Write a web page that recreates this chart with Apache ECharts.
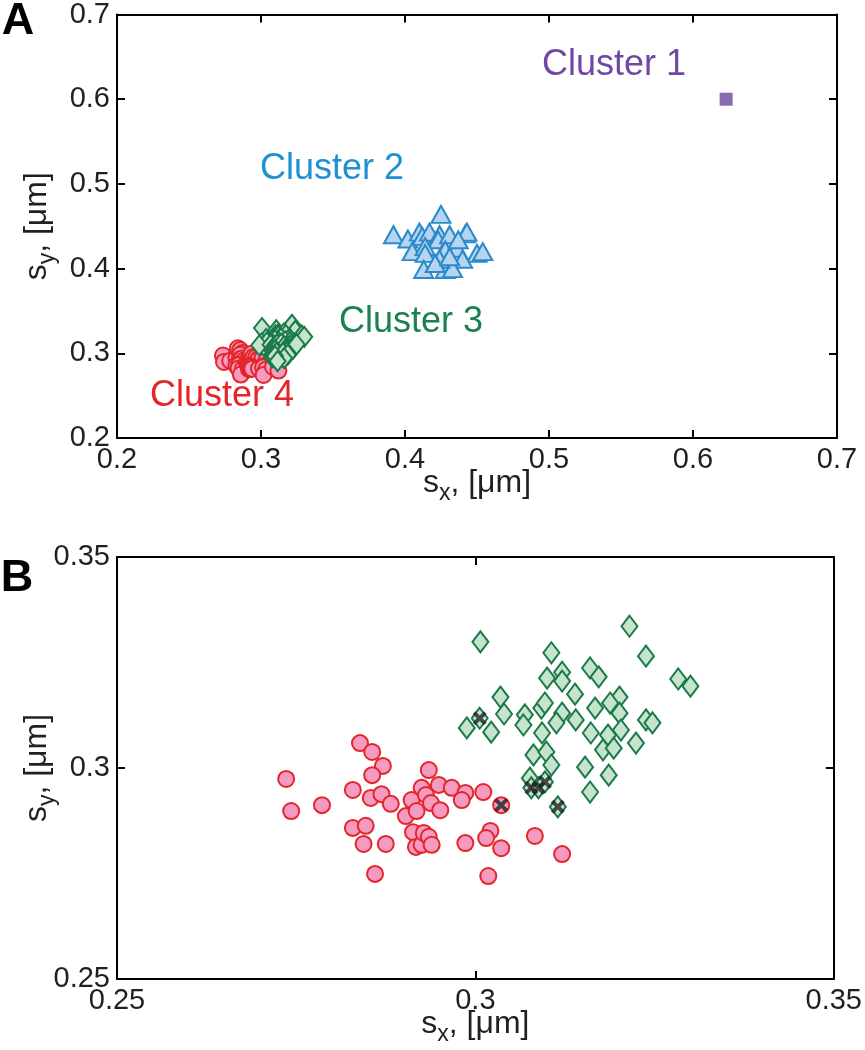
<!DOCTYPE html>
<html>
<head>
<meta charset="utf-8">
<script src="https://cdn.jsdelivr.net/npm/echarts@6/dist/echarts.min.js"></script>
<style>
html,body{margin:0;padding:0;background:#fff}
#main{width:865px;height:1050px}
</style>
</head>
<body>
<div id="main"></div>
<script>
// cluster data, [sx, sy] in um
const cluster1 = [[0.623, 0.600]];

const cluster2 = [
  [0.425,0.464],[0.392,0.440],[0.402,0.435],[0.410,0.443],[0.412,0.438],
  [0.417,0.443],[0.424,0.440],[0.423,0.434],[0.431,0.440],[0.442,0.441],
  [0.443,0.443],[0.405,0.420],[0.414,0.426],[0.414,0.418],[0.426,0.418],
  [0.428,0.422],[0.436,0.424],[0.437,0.434],[0.450,0.418],[0.454,0.420],
  [0.440,0.411],[0.413,0.399],[0.428,0.399],[0.433,0.400],[0.424,0.411],
  [0.421,0.406],[0.431,0.414]
];

const cluster3 = [
  [0.3007,0.3299],[0.3215,0.3336],[0.3106,0.3273],[0.3238,0.3265],[0.3100,0.3213],
  [0.3121,0.3227],[0.3121,0.3206],[0.3160,0.3237],[0.3172,0.3216],[0.3283,0.3211],
  [0.3300,0.3194],[0.3035,0.3168],[0.3139,0.3175],[0.3201,0.3168],[0.3188,0.3154],
  [0.3092,0.3142],[0.3097,0.3154],[0.3167,0.3142],[0.3069,0.3126],[0.3121,0.3130],
  [0.3006,0.3118],[0.3022,0.3085],[0.3040,0.3128],[0.2988,0.3095],[0.3067,0.3102],
  [0.3093,0.3083],[0.3113,0.3107],[0.3140,0.3114],[0.3201,0.3130],[0.3161,0.3083],
  [0.3185,0.3078],[0.3203,0.3090],[0.3178,0.3043],[0.3193,0.3047],[0.3224,0.3059],
  [0.3238,0.3114],[0.3247,0.3107],[0.3081,0.3031],[0.3099,0.3038],[0.3106,0.3007],
  [0.3153,0.3002],[0.3186,0.2983],[0.3160,0.2943],[0.3076,0.2976],[0.3078,0.2953],
  [0.3088,0.2953],[0.3097,0.2967],[0.3115,0.2908]
];

const cluster4 = [
  [0.2736,0.2974],[0.2743,0.2898],[0.2786,0.2912],[0.2829,0.2948],[0.2839,0.3059],
  [0.2856,0.3038],[0.2871,0.3005],[0.2856,0.2983],[0.2854,0.2929],[0.2869,0.2938],
  [0.2882,0.2915],[0.2829,0.2858],[0.2847,0.2863],[0.2844,0.2820],[0.2875,0.2820],
  [0.2860,0.2749],[0.2903,0.2886],[0.2911,0.2924],[0.2918,0.2898],[0.2925,0.2953],
  [0.2931,0.2936],[0.2938,0.2917],[0.2951,0.2900],[0.2935,0.2995],[0.2949,0.2960],
  [0.2967,0.2953],[0.2986,0.2941],[0.2981,0.2924],[0.3011,0.2943],[0.3036,0.2912],
  [0.2913,0.2848],[0.2917,0.2813],[0.2925,0.2818],[0.2928,0.2846],[0.2935,0.2837],
  [0.2939,0.2818],[0.2986,0.2822],[0.3021,0.2851],[0.3015,0.2834],[0.3036,0.2810],
  [0.3018,0.2744],[0.3083,0.2839],[0.3121,0.2796]
];

// points marked with a cross in panel B
const crossed = [
  [0.3006,0.3118],[0.3036,0.2912],[0.3078,0.2953],[0.3088,0.2953],[0.3097,0.2967],[0.3115,0.2908]
];

const ticksA = {min:0.2, max:0.7, step:0.1};
const ticksB = {min:0.25, max:0.35, step:0.05};

const FONT = '"Liberation Sans", Arial, Helvetica, sans-serif';
const INK = '#231f20';

const red = {fill:'#f59ac0', line:'#e3262a'};
const green = {fill:'#c6e4cc', line:'#1b7a4c'};
const blue = {fill:'#b5d4ef', line:'#2b8acb'};
const purple = '#6a45a0';

const fmt = v => String(+v.toFixed(2));

function nameRich(sub) {
  return {
    text: '{a|s}{b|' + sub + '}{a|, [μm]}',
    style: {
      rich: {
        a: {fontSize: 32, fontFamily: FONT, color: INK},
        b: {fontSize: 23, fontFamily: FONT, color: INK, padding: [20, 0, 0, 0]}
      }
    }
  };
}

function mainAxis(grid, t, pos, sub, gap) {
  const n = nameRich(sub);
  return {
    gridIndex: grid, type: 'value', position: pos,
    min: t.min, max: t.max, interval: t.step,
    axisLine: {lineStyle: {color: '#000', width: 2}},
    axisTick: {inside: true, length: 8, lineStyle: {color: '#000', width: 2}},
    axisLabel: {fontSize: 29, fontFamily: FONT, color: INK, margin: 7, formatter: fmt,
      showMinLabel: true, showMaxLabel: true},
    splitLine: {show: false},
    name: n.text, nameLocation: 'middle', nameGap: gap,
    nameMoveOverlap: false,
    nameRotate: (pos === 'left') ? 90 : 0,
    nameTextStyle: n.style
  };
}

function boxAxis(grid, t, pos) {
  return {
    gridIndex: grid, type: 'value', position: pos,
    min: t.min, max: t.max, interval: t.step,
    axisLine: {lineStyle: {color: '#000', width: 2}},
    axisTick: {inside: true, length: 8, lineStyle: {color: '#000', width: 2}},
    axisLabel: {show: false},
    splitLine: {show: false}
  };
}

function scatter(idx, data, symbol, size, c, z) {
  return {
    type: 'scatter', xAxisIndex: idx, yAxisIndex: idx,
    data: data, symbol: symbol, symbolSize: size, z: z,
    itemStyle: {color: c.fill, borderColor: c.line, borderWidth: 2, opacity: 1},
    emphasis: {disabled: true}
  };
}

function label(text, x, y, color, size, bold) {
  return {
    type: 'text', x: x, y: y, z: 100,
    style: {text: text, fill: color, fontSize: size, fontFamily: FONT,
      fontWeight: bold ? 'bold' : 'normal', align: 'center', verticalAlign: 'middle'}
  };
}

const chart = echarts.init(document.getElementById('main'), null, {renderer: 'canvas'});

chart.setOption({
  backgroundColor: '#fff',
  animation: false,
  grid: [
    {left: 117, top: 10, width: 720, height: 428},
    {left: 117, top: 557, width: 720, height: 422}
  ],
  xAxis: [
    mainAxis(0, ticksA, 'bottom', 'x', 24),
    boxAxis(0, ticksA, 'top'),
    mainAxis(1, ticksB, 'bottom', 'x', 24),
    boxAxis(1, ticksB, 'top')
  ],
  yAxis: [
    mainAxis(0, ticksA, 'left', 'y', 58),
    boxAxis(0, ticksA, 'right'),
    mainAxis(1, ticksB, 'left', 'y', 58),
    boxAxis(1, ticksB, 'right')
  ],
  series: [
    // panel A
    {
      type: 'scatter', xAxisIndex: 0, yAxisIndex: 0, data: cluster1,
      symbol: 'rect', symbolSize: 13, itemStyle: {color: purple}
    },
    scatter(0, cluster2, 'triangle', [19, 17], blue, 2),
    scatter(0, cluster4, 'circle', 16, red, 2),
    scatter(0, cluster3, 'diamond', [16, 20], green, 3),
    // panel B
    scatter(2, cluster4, 'circle', 16, red, 2),
    scatter(2, cluster3, 'diamond', [16, 21], green, 3),
    {
      type: 'scatter', xAxisIndex: 2, yAxisIndex: 2, data: crossed, z: 4,
      symbol: 'path://M0,2L2,0L5,3L8,0L10,2L7,5L10,8L8,10L5,7L2,10L0,8L3,5Z',
      symbolSize: 14,
      itemStyle: {color: '#222'}
    }
  ],
  graphic: [
    label('A', 18, 22, '#000', 45, true),
    label('B', 17, 579, '#000', 45, true),
    label('Cluster 1', 614, 65, '#7048a3', 36),
    label('Cluster 2', 332, 169, '#1d91d3', 36),
    label('Cluster 3', 411, 322, '#1b8150', 36),
    label('Cluster 4', 222, 396, '#e4262a', 36)
  ]
});
</script>
</body>
</html>
